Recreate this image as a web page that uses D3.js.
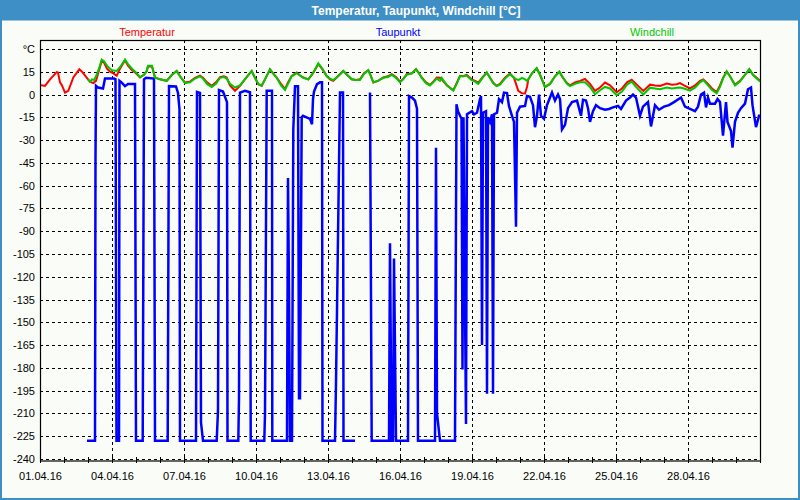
<!DOCTYPE html>
<html><head><meta charset="utf-8">
<script src="https://cdn.jsdelivr.net/npm/d3@7"></script>
<style>html,body{margin:0;padding:0;background:#fafcf7;} svg{display:block}</style>
</head><body><svg id="c" width="800" height="500"></svg>
<script>
const titleText = "Temperatur, Taupunkt, Windchill [°C]";
const seriesNames = ["Temperatur", "Taupunkt", "Windchill"];
const seriesColors = ["#ff0000", "#0000ff", "#00c800"];
const xTickLabels = ["01.04.16","04.04.16","07.04.16","10.04.16","13.04.16","16.04.16","19.04.16","22.04.16","25.04.16","28.04.16"];
const yTickValues = [30,15,0,-15,-30,-45,-60,-75,-90,-105,-120,-135,-150,-165,-180,-195,-210,-225,-240];
const yTopLabel = "°C";

// [hours since 01.04.16 00:00, °C]
const temperatur = [[0,6.3],[5,5.7],[10,10],[16.7,14.8],[18,14.5],[20,8],[22,6],[25,1.3],[28.3,2.4],[33.3,11.2],[39.3,16.6],[42,15],[46.7,11.2],[50,8.5],[53.3,7.5],[56,9],[59,16],[61.7,22],[64,21],[67,17],[70,15],[72,14.5],[76.7,12.3],[80,17],[85,22.6],[88,19],[92,16],[96,14],[100,11.2],[104,13],[106.7,15.5],[108,18.5],[112,18.5],[115,11.2],[120,10],[126.7,9],[132,13],[136.7,15.5],[140,12],[145,7.9],[150,8.5],[155,11],[160,12.5],[163,11],[167,8],[171.7,5.7],[176,8],[180,11.5],[184,12],[186.7,11.2],[190,6],[195,2.4],[200,5.7],[206,11],[211.7,15.5],[215,11],[218.3,6.8],[221.7,5.7],[225,10],[230,16.6],[233,14],[236.7,11.2],[241,7],[245,3.5],[248,8],[251.7,12.3],[256.7,14.5],[260,12.5],[263.3,11.2],[268.3,10],[273,14],[278.3,20],[282,17],[286.7,12.3],[290,10],[293.3,9],[298,12],[303.3,15.5],[307,13],[311.7,10],[316,9.5],[320,10],[324,14],[328.3,16],[331,12],[333.3,7.9],[338,9],[343.3,11.2],[348,12],[351.7,13.4],[356,11.5],[360,8.5],[363,10],[366.7,13.4],[372,14],[376,16.6],[379,14],[381.7,11.2],[386,8],[390,6.3],[394,9],[396.7,11.2],[400,11],[401.7,10],[407,6],[413.3,2.8],[417,8],[420,12.3],[423,12],[426.7,12.9],[429,11.5],[431.7,10],[435,9],[438.3,7.9],[442,11],[446.7,14.5],[450,11],[453,8],[456.7,5.7],[460,7],[465,11],[470,13.8],[474,11],[478.3,2.4],[482,0.8],[485,0.7],[487,5],[488.3,10],[492,14],[496.7,17.3],[500,13],[505,5],[510,7],[515,12],[519.3,15],[523,11],[527,7.5],[530,6],[535,8],[540,9],[545,10.2],[550,7],[555,2.4],[560,4.6],[565,7.9],[570,6],[576.7,1.5],[582,4],[587,8],[591.7,9.8],[596,7],[603.3,2.4],[610,6.5],[615,6],[620,5.7],[626.7,7.2],[632,6.5],[636.7,6.8],[640,7.5],[644,6],[650,4],[655,6],[660,9],[663.3,10],[668,7],[672,4],[676.7,1.7],[680,6],[683,11],[686.7,15.2],[690,12],[695,6.5],[700,9],[705,13],[709.3,16.6],[713,13],[716.7,11],[720,9]];

const taupunkt = [[47,-228],[55,-228],[55.5,-42],[56,5.7],[58,4.6],[63,4],[65,10.5],[74,10.5],[75.5,10],[76.5,-228],[79,-228],[79.5,9],[81.5,8],[85,5.5],[88,7],[95,7],[96,-228],[102.7,-228],[104,10],[106,11],[114,10.5],[115,-228],[127.7,-228],[129,5.5],[136,5.3],[138,1],[139.5,-10],[140,-228],[156,-228],[157,1.7],[160,1],[161,-216],[163,-228],[176.7,-228],[178,-208],[179,3],[183,2],[187,-5],[187.5,-228],[198.3,-228],[199,-200],[200,1.3],[205,2.5],[210,1.5],[210.7,-228],[224.3,-228],[225,-210],[226.7,2.4],[232,2.4],[232.3,-228],[247,-228],[248,-55],[249,-130],[250,-228],[252,-228],[253.3,-23],[255,5.5],[258,5.5],[259,-200],[260,-200],[261.7,-15],[263,-14],[270,-16],[272,-19.6],[273,-3],[274,2],[277,6.8],[280,8],[282,8],[282.5,-228],[295,-228],[296,-190],[300,1.3],[303,1.3],[303.5,-228],[315,-228],[320,null],[330,1.3],[331.7,-228],[349,-228],[350,-98],[351.5,-228],[353,-228],[354,-108],[356,-228],[368,-228],[369,-1],[372,-2],[375,-4],[377,-9.4],[378,-228],[395,-228],[396,-35],[397,-210],[400,-228],[415,-228],[416.5,-6.4],[418,-11],[420,-14],[421.5,-16],[422.5,-181],[423.5,-15],[426,-217],[427,-13],[432,-11],[434,-13],[437,-12],[440,-3],[441,-1],[442,-165],[443,-12],[446,-11],[447,-197],[448,-15],[450,-18],[452,-13],[453,-197],[454,-13],[457,-12],[459,-3],[462,-5],[464,1.3],[467,1],[469,-7.7],[472,-14],[474,-18],[476,-87],[477,-12],[480,-8],[485,-7.5],[487,-1],[490,-1.5],[493,-7],[495,-21.5],[497,-14],[499,0],[501,-14],[504,-16],[507,-7],[510,-2],[512,1.3],[515,-4],[518,0],[520,-3],[522,-23],[525,-20],[528,-9],[532,-5],[537,-4],[541,-14],[543,-3.5],[546,-4],[548,-9],[550,-18],[553,-11],[556,-7],[560,-9],[565,-10],[569,-9.5],[573,-8.5],[578,-7.5],[581,-9.5],[586,-4],[590,-2],[593,0],[596,-2],[600,-14],[603,-8],[608,-5],[611,-21],[615,-7],[619,-10],[624,-8],[629,-7],[634,-5],[641,-2],[645,-8],[650,-9.5],[655,-11],[658,-8],[661,0],[664,1.3],[666,-8.5],[668,-2],[670,-6],[675,-6],[677.5,-3],[680,-5],[683,-27],[686,-5],[687.5,-18],[691,-24],[692.5,-35],[695,-18],[698,-12],[701,-9],[705,-6],[708,3.5],[711,4.6],[712.5,-7],[716,-21.5],[719,-14],[720,-14]];

const windchill = [[48,10],[50,8.5],[52,10],[54,9.5],[56,12],[59,17],[61.7,23],[64,22],[67,19],[70,17],[72,16],[76.7,15.5],[80,18],[85,23],[88,20],[92,17],[96,14.5],[100,11.5],[104,13],[106.7,15.5],[108,19],[112,19],[115,11],[120,10],[126.7,9],[132,13],[136.7,15.5],[140,12],[145,7.5],[150,8],[155,10.5],[160,12],[163,10.5],[167,7],[171.7,5],[176,7],[180,11],[184,11.5],[186.7,10.5],[190,7],[195,4.6],[200,6],[206,11],[211.7,15.5],[215,11],[218.3,7],[221.7,6],[225,10],[230,16.6],[233,14],[236.7,11],[241,6],[245,3],[248,7],[251.7,12],[256.7,14],[260,12.5],[263.3,11],[268.3,10],[273,14],[278.3,20.5],[282,17.5],[286.7,12],[290,10.5],[293.3,9.5],[298,12],[303.3,15.5],[307,13],[311.7,10],[316,9.5],[320,9.5],[324,13.5],[328.3,16],[331,12],[333.3,8],[338,9],[343.3,11],[348,11.5],[351.7,13],[356,11],[360,8],[363,10],[366.7,13],[372,14],[376,16.6],[379,14],[381.7,11],[386,7.5],[390,6],[394,8.5],[396.7,10.5],[400,9],[401.7,11],[407,6],[413.3,2.5],[417,7.5],[420,12],[423,12],[426.7,12.5],[429,11],[431.7,9.5],[435,8.5],[438.3,7],[442,10.5],[446.7,14.5],[450,11],[453,7.5],[456.7,5.5],[460,6.5],[465,10.5],[470,13.5],[474,11],[478.3,9.5],[482,11],[485,10],[487,9],[488.3,10],[492,14],[496.7,17.3],[500,13],[505,5],[510,7],[515,12],[519.3,15],[523,11],[527,7],[530,5.5],[535,7],[540,8],[545,8],[550,5],[555,0.2],[560,2.8],[565,5],[570,4],[576.7,-0.5],[582,2],[587,6.5],[591.7,8.5],[596,5],[603.3,0],[610,4.5],[615,4],[620,3.5],[626.7,4.6],[632,4],[636.7,4.5],[640,4.6],[644,4],[650,2.5],[655,4.5],[660,8],[663.3,9.5],[668,6],[672,3],[676.7,0.8],[680,5],[683,10.5],[686.7,15.2],[690,12],[695,6],[700,8.5],[705,13],[709.3,16.6],[713,13],[716.7,10.5],[720,8.5]];

const W = 800, H = 500;
const plot = {left: 40, right: 760, top: 40, bottom: 460.5};
const start = Date.UTC(2016, 3, 1), end = Date.UTC(2016, 4, 1);
const toDate = h => new Date(start + h * 3600e3);
const parse = d3.utcParse("%d.%m.%y");

const svg = d3.select("#c");
const font = "'Liberation Sans', Arial, sans-serif";

// frame
svg.append("rect").attr("x",0).attr("y",0).attr("width",W).attr("height",H).attr("fill","#fafcf7");
svg.append("rect").attr("x",0).attr("y",0).attr("width",W).attr("height",20.5).attr("fill","#3d8fc6");
svg.append("rect").attr("x",0).attr("y",0).attr("width",2).attr("height",H).attr("fill","#3d8fc6");
svg.append("rect").attr("x",W-2).attr("y",0).attr("width",2).attr("height",H).attr("fill","#3d8fc6");
svg.append("rect").attr("x",0).attr("y",H-2).attr("width",W).attr("height",2).attr("fill","#3d8fc6");
svg.append("text").attr("x",416).attr("y",14.5).attr("text-anchor","middle")
  .attr("font-family",font).attr("font-size","12px").attr("font-weight","bold").attr("fill","#fff").text(titleText);

const x = d3.scaleUtc().domain([new Date(start), new Date(end)]).range([plot.left, plot.right]);
const y = d3.scaleLinear().domain([-241, 35.9]).range([plot.bottom, plot.top]);

// legend
const legendX = [147, 398, 652];
seriesNames.forEach((n, i) => {
  svg.append("text").attr("x", legendX[i]).attr("y", 36).attr("text-anchor","middle")
    .attr("font-family",font).attr("font-size","11px").attr("fill",seriesColors[i]).text(n);
});

// grid
const g = svg.append("g");
yTickValues.forEach(v => {
  g.append("line").attr("x1",plot.left).attr("x2",plot.right).attr("y1",Math.round(y(v))+0.5).attr("y2",Math.round(y(v))+0.5)
    .attr("stroke","#000").attr("stroke-width",1).attr("stroke-dasharray","3,3");
});
const xTickDates = xTickLabels.map(parse);
xTickDates.slice(1).forEach(d => {
  g.append("line").attr("x1",Math.round(x(d))+0.5).attr("x2",Math.round(x(d))+0.5).attr("y1",plot.top).attr("y2",plot.bottom)
    .attr("stroke","#000").attr("stroke-width",1).attr("stroke-dasharray","3,3");
});

// series
svg.append("clipPath").attr("id","clip").append("rect")
  .attr("x",plot.left).attr("y",plot.top).attr("width",plot.right-plot.left).attr("height",plot.bottom-plot.top);
const line = d3.line().defined(d => d[1] !== null).x(d => x(toDate(d[0]))).y(d => y(d[1]));
const lg = svg.append("g").attr("clip-path","url(#clip)");
[[temperatur,0,2],[taupunkt,1,2.5],[windchill,2,2]].forEach(([data,i,w]) => {
  lg.append("path").datum(data).attr("d",line).attr("fill","none")
    .attr("stroke",seriesColors[i]).attr("stroke-width",w).attr("stroke-linejoin","miter");
});

// plot border
svg.append("rect").attr("x",plot.left+0.5).attr("y",plot.top+0.5).attr("width",plot.right-plot.left).attr("height",plot.bottom-plot.top)
  .attr("fill","none").attr("stroke","#000").attr("stroke-width",1.2);

// y axis labels
const yAxis = d3.axisLeft(y).tickValues(yTickValues).tickSize(0).tickPadding(5)
  .tickFormat(v => v === 30 ? yTopLabel : String(v));
const ya = svg.append("g").attr("transform",`translate(${plot.left},0)`).call(yAxis);
ya.select(".domain").remove();
ya.selectAll("text").attr("font-family",font).attr("font-size","11px").attr("fill","#000");

// x axis: day ticks + labels
const xAxisMinor = d3.axisBottom(x).ticks(d3.utcDay.every(1)).tickSize(3).tickFormat("");
const xm = svg.append("g").attr("transform",`translate(0,${plot.bottom-0.5})`).call(xAxisMinor);
xm.select(".domain").remove();
xm.selectAll("line").attr("stroke","#000").attr("y1",-3);
const xAxis = d3.axisBottom(x).tickValues(xTickDates).tickSize(0).tickPadding(12)
  .tickFormat((d,i) => xTickLabels[i]);
const xa = svg.append("g").attr("transform",`translate(0,${plot.bottom})`).call(xAxis);
xa.select(".domain").remove();
xa.selectAll("text").attr("font-family",font).attr("font-size","11px").attr("fill","#000");
</script>
</body></html>
